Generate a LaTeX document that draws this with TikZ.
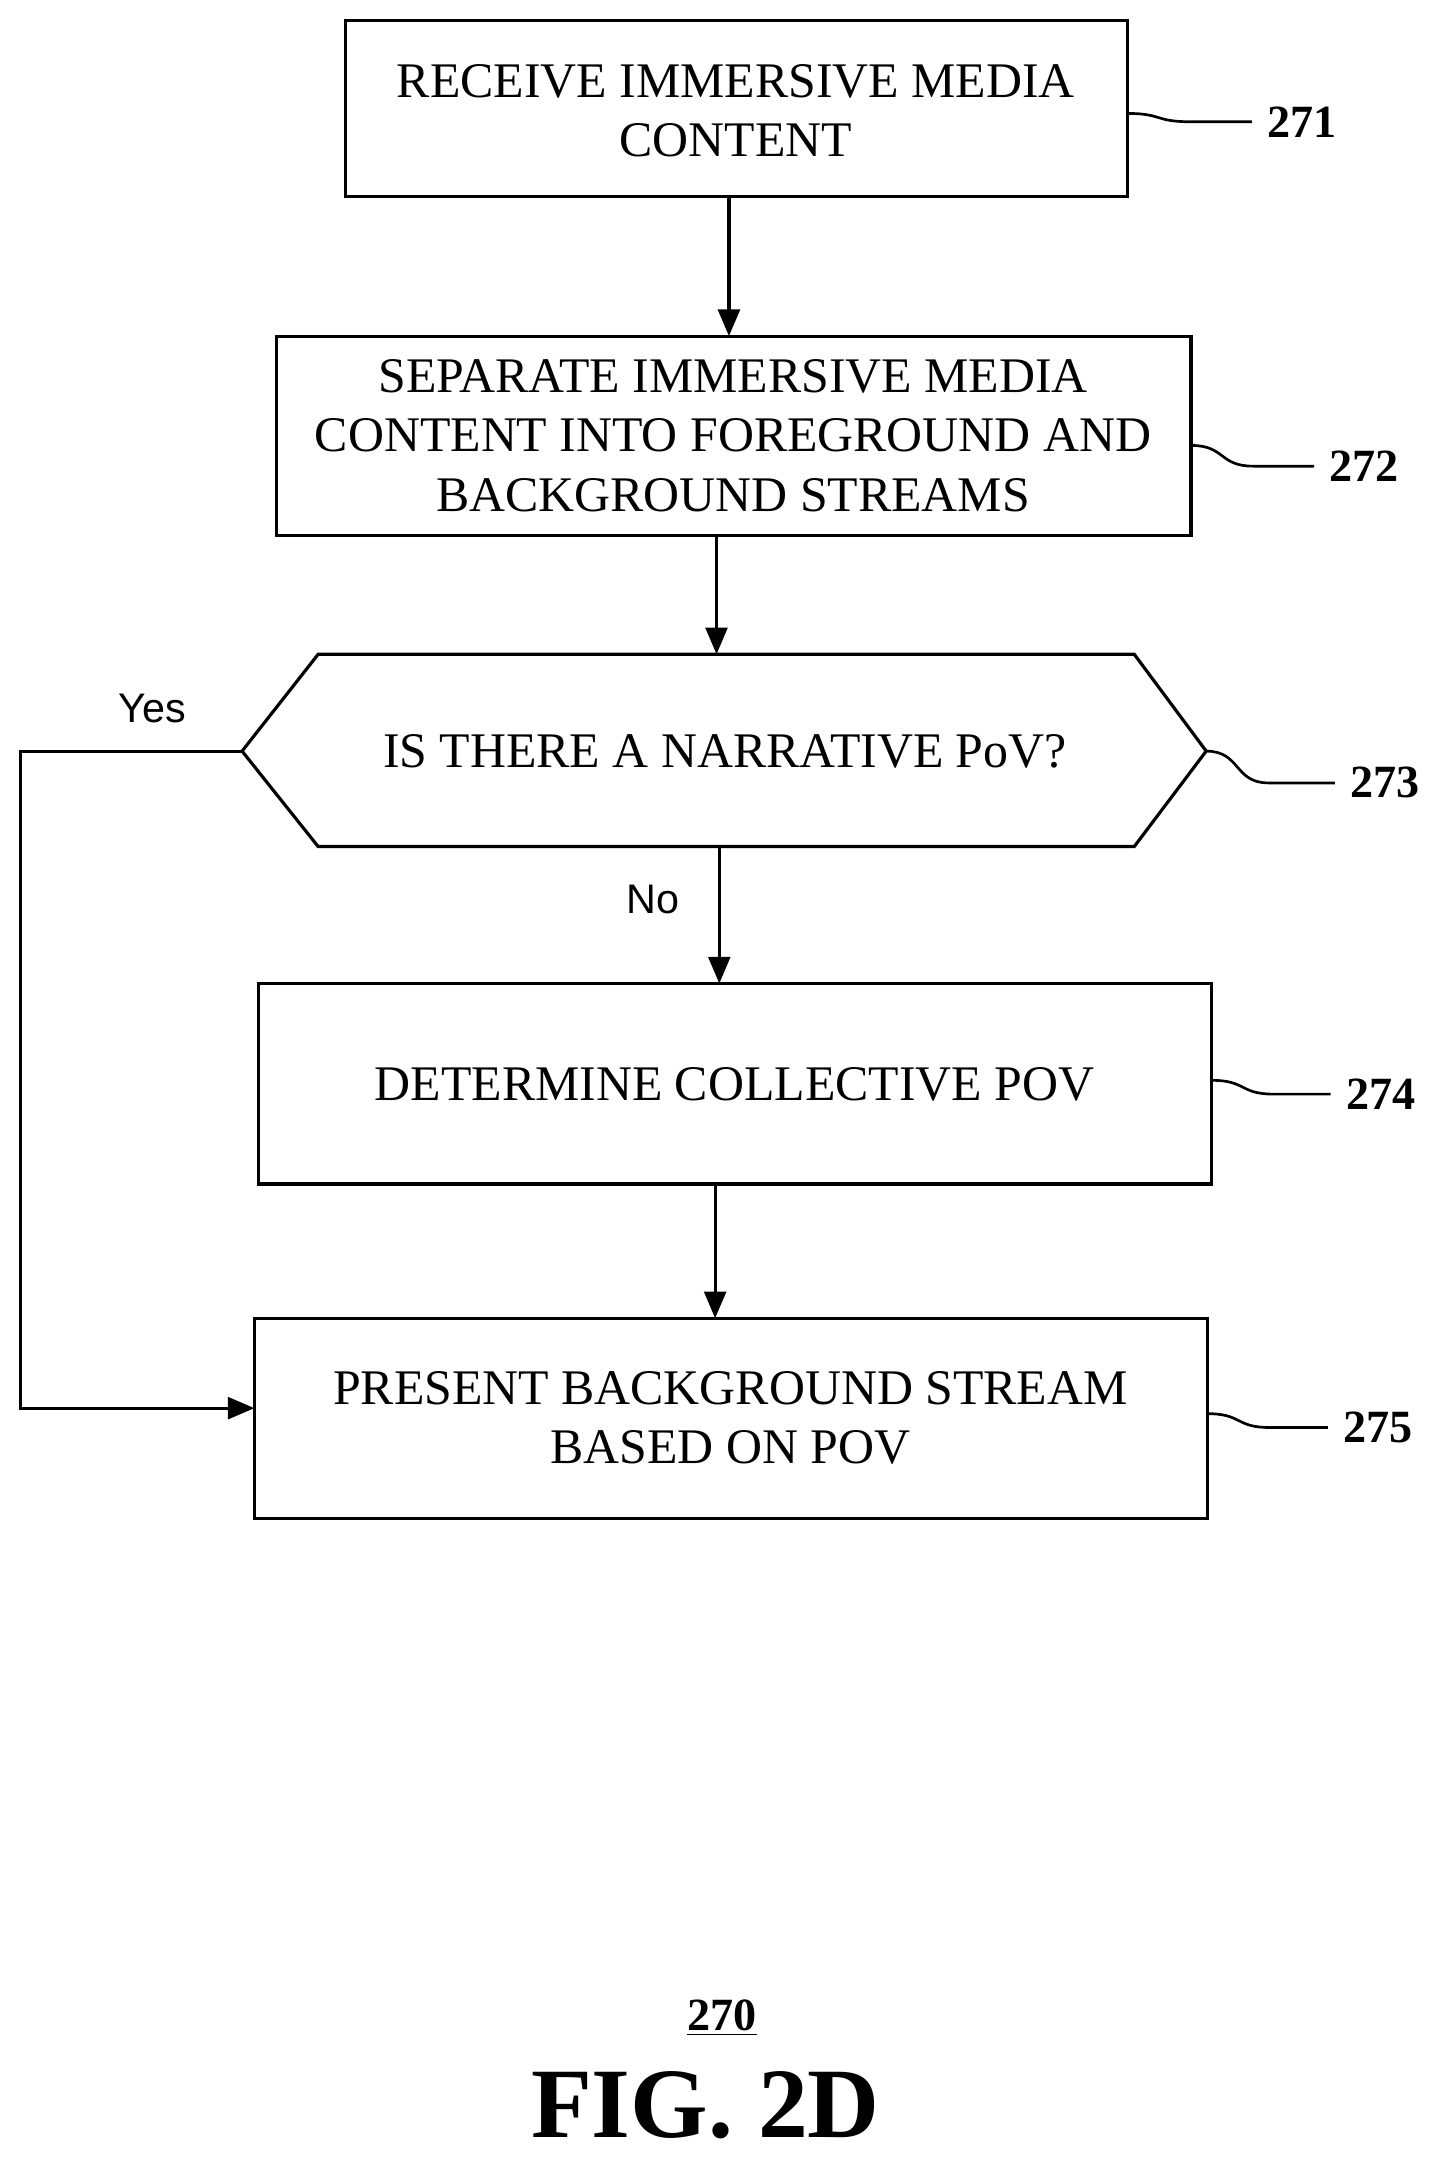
\documentclass[tikz,border=0pt]{standalone}
\usepackage{fontspec}
\setmainfont{Liberation Serif}
\newfontfamily\arial{Liberation Sans}
\usetikzlibrary{arrows.meta}
\begin{document}
\begin{tikzpicture}[x=0.02cm,y=-0.02cm,
  box/.style={draw,line width=1.3pt},
  txt/.style={font=\fontsize{20.5}{24.5}\selectfont,align=center},
  lab/.style={font=\fontsize{19}{22}\selectfont\bfseries},
  arr/.style={line width=1.3pt,-{Triangle[length=11pt,width=9pt]}},
  lead/.style={line width=1.1pt}]
\useasboundingbox (0,0) rectangle (1045,1563);
\draw[box] (250,15) rectangle (815,142);
\node[txt] (t1) at (532,80) {RECEIVE IMMERSIVE MEDIA\\CONTENT};
\draw[box] (200,243) rectangle (861,387);
\node[txt] (t2) at (530,315) {SEPARATE IMMERSIVE MEDIA\\CONTENT INTO FOREGROUND AND\\BACKGROUND STREAMS};
\draw[box] (175,543) -- (230,473) -- (820,473) -- (872,543) -- (820,612) -- (230,612) -- cycle;
\node[txt] (t3) at (524,543) {IS THERE A NARRATIVE PoV?};
\draw[box] (187,711) rectangle (876,856);
\node[txt] (t4) at (531,784) {DETERMINE COLLECTIVE POV};
\draw[box] (184,953) rectangle (873,1098);
\node[txt] (t5) at (528,1025) {PRESENT BACKGROUND STREAM\\BASED ON POV};
\coordinate (a1) at (527,142); \coordinate (b1) at (527,243);
\coordinate (a2) at (518,387); \coordinate (b2) at (518,473);
\coordinate (a3) at (520,612); \coordinate (b3) at (520,711);
\coordinate (a4) at (517,856); \coordinate (b4) at (517,953);
\draw[arr] (a1) -- (b1);
\draw[arr] (a2) -- (b2);
\draw[arr] (a3) -- (b3);
\draw[arr] (a4) -- (b4);
\coordinate (y0) at (175,543); \coordinate (y1) at (184,1018);
\draw[arr] (y0) -- (15,543) -- (15,1018) -- (y1);
\node[font=\arial\fontsize{17}{19}\selectfont] (yes) at (110,512) {Yes};
\node[font=\arial\fontsize{17}{19}\selectfont] (no) at (472,650) {No};
\foreach \x/\y/\ex/\ey/\n in {815/82/905/88/271, 861/322/950/337/272, 872/543/965/566/273, 876/781/962/791/274, 873/1022/960/1032/275}{
  \draw[lead] (\x,\y) .. controls (\x+25,\y) and (\x+20,\ey) .. (\x+45,\ey) -- (\ex,\ey);
  \node[lab,anchor=west] at (\ex+5,\ey) {\n};
}
\node[lab] (n270) at (522,1459) {\underline{270}};
\node[font=\fontsize{41}{46}\selectfont\bfseries] (fig) at (510,1522) {FIG. 2D};
\end{tikzpicture}
\end{document}
